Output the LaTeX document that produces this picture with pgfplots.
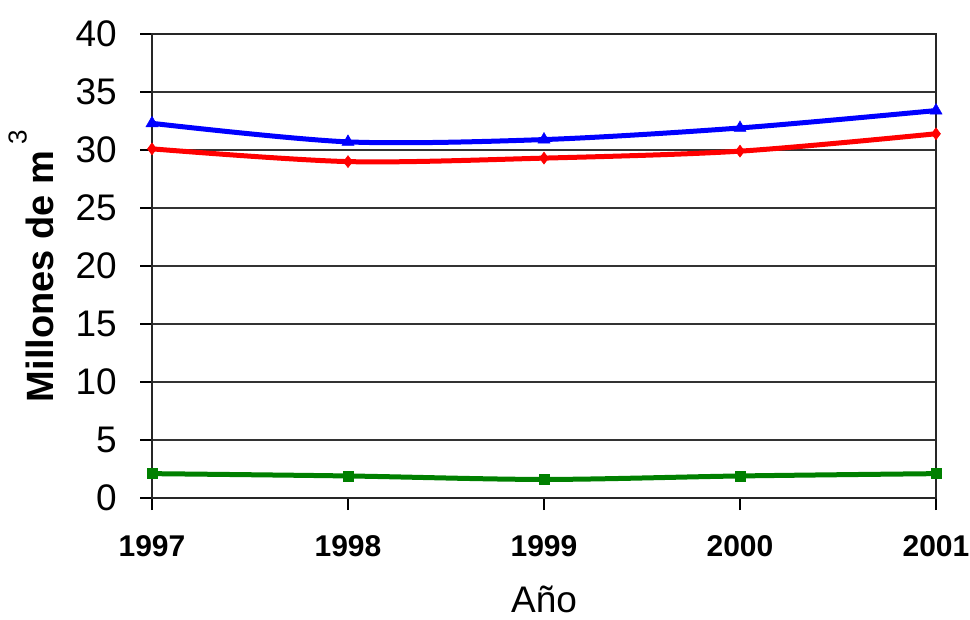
\documentclass[border=0pt]{standalone}
\usepackage{pgfplots}
\pgfplotsset{compat=1.18}
\usepackage{fontspec}
\setmainfont{Liberation Sans}
\definecolor{cblue}{RGB}{0,0,255}
\definecolor{cred}{RGB}{255,0,0}
\definecolor{cgreen}{RGB}{0,128,0}
\begin{document}
\begin{tikzpicture}
\useasboundingbox (-152pt,-121pt) rectangle (818pt,498pt);
\begin{axis}[
  at={(0pt,0pt)}, anchor=south west,
  scale only axis, width=784pt, height=464pt,
  xmin=1997, xmax=2001, ymin=0, ymax=40,
  xtick={1997,1998,1999,2000,2001},
  xticklabels={1997,1998,1999,2000,2001},
  ytick={0,5,...,40},
  /pgf/number format/assume math mode=true,
  tick align=outside, major tick length=12pt,
  xtick pos=bottom, ytick pos=left,
  tick style={black, line width=1.2pt},
  axis line style={black!85, line width=1.4pt},
  ymajorgrids, grid style={black!80, line width=1.2pt},
  yticklabel style={font=\fontsize{37}{40}\selectfont, inner sep=0pt, xshift=-23pt},
  xticklabel style={font=\fontsize{30}{33}\selectfont\bfseries, inner sep=0pt, yshift=-25pt},
  ylabel={Millones de m\,\raisebox{0.7em}{\fontsize{26}{28}\selectfont\mdseries 3}},
  ylabel style={font=\fontsize{38}{40}\selectfont\bfseries, at={(rel axis cs:-0.1543,0.5)}, anchor=center, rotate=0, inner sep=0pt},
  xlabel={Año},
  xlabel style={font=\fontsize{37}{40}\selectfont, at={(rel axis cs:0.5,-0.2457)}, anchor=base, inner sep=0pt},
  clip=false,
]
\addplot[cblue, line width=5pt, smooth, tension=0.5, mark=triangle*, mark size=7pt, mark options={line width=0.5pt}] coordinates {
  (1997,32.3) (1998,30.7) (1999,30.9) (2000,31.9) (2001,33.4)};
\addplot[cred, line width=5pt, smooth, tension=0.5, mark=diamond*, mark size=6pt, mark options={line width=0.5pt}] coordinates {
  (1997,30.1) (1998,29.0) (1999,29.3) (2000,29.9) (2001,31.4)};
\addplot[cgreen, line width=5pt, smooth, tension=0.5, mark=square*, mark size=5pt, mark options={line width=0.5pt}] coordinates {
  (1997,2.1) (1998,1.9) (1999,1.6) (2000,1.9) (2001,2.1)};
\end{axis}
\end{tikzpicture}
\end{document}
